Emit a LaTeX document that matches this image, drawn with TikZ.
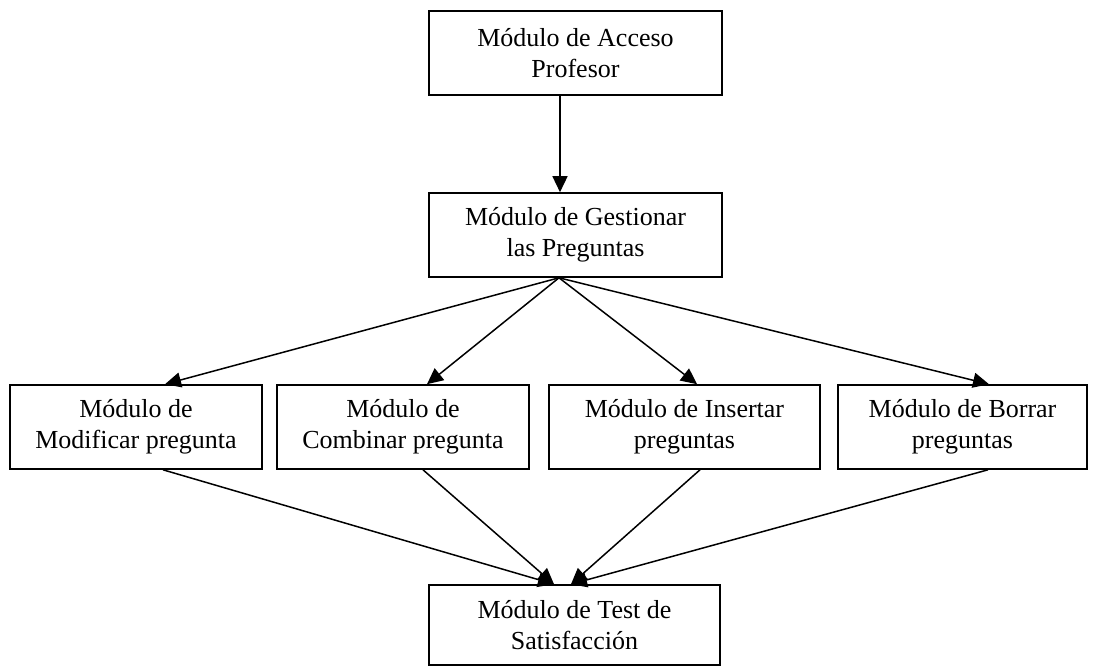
\documentclass[tikz,border=0pt]{standalone}
\usepackage{fontspec}
\setmainfont{Liberation Serif}
\usetikzlibrary{arrows.meta}
\begin{document}
\begin{tikzpicture}[x=1pt,y=-1pt,
  modbox/.style={draw, line width=1.6pt, align=center, inner sep=0pt,
    minimum height=84pt, font=\fontsize{26}{31}\selectfont},
  link/.style={line width=1.5pt, -{Triangle[length=16pt,width=15pt]}}]
  \useasboundingbox (0,0) rectangle (1095,668);

  % top of the hierarchy
  \node[modbox, minimum width=293pt] (acceso) at (575.5,53) {Módulo de Acceso\\Profesor};
  \node[modbox, minimum width=293pt] (gestion) at (575.5,235) {Módulo de Gestionar\\las Preguntas};

  % the four operations on questions
  \node[modbox, minimum width=252pt] (modif) at (136,427) {Módulo de\\Modificar pregunta};
  \node[modbox, minimum width=252pt] (combi) at (403,427) {Módulo de\\Combinar pregunta};
  \node[modbox, minimum width=271pt] (inser) at (684.5,427) {Módulo de Insertar\\preguntas};
  \node[modbox, minimum width=249pt] (borra) at (962.5,427) {Módulo de Borrar\\preguntas};

  % final module
  \node[modbox, minimum width=291pt, minimum height=80pt] (test) at (574.5,625) {Módulo de Test de\\Satisfacción};

  \draw[link] ([xshift=-15.5pt]acceso.south) -- ([xshift=-15.5pt]gestion.north);

  \draw[link] ([xshift=-16.5pt]gestion.south) -- ([xshift=29pt]modif.north);
  \draw[link] ([xshift=-16.5pt]gestion.south) -- ([xshift=24pt]combi.north);
  \draw[link] ([xshift=-16.5pt]gestion.south) -- ([xshift=12.5pt]inser.north);
  \draw[link] ([xshift=-16.5pt]gestion.south) -- ([xshift=26.5pt]borra.north);

  \draw[link] ([xshift=27pt]modif.south) -- ([xshift=-20.5pt]test.north);
  \draw[link] ([xshift=20pt]combi.south) -- ([xshift=-20.5pt]test.north);
  \draw[link] ([xshift=15.5pt]inser.south) -- ([xshift=-3.5pt]test.north);
  \draw[link] ([xshift=25.5pt]borra.south) -- ([xshift=-3.5pt]test.north);
\end{tikzpicture}
\end{document}
